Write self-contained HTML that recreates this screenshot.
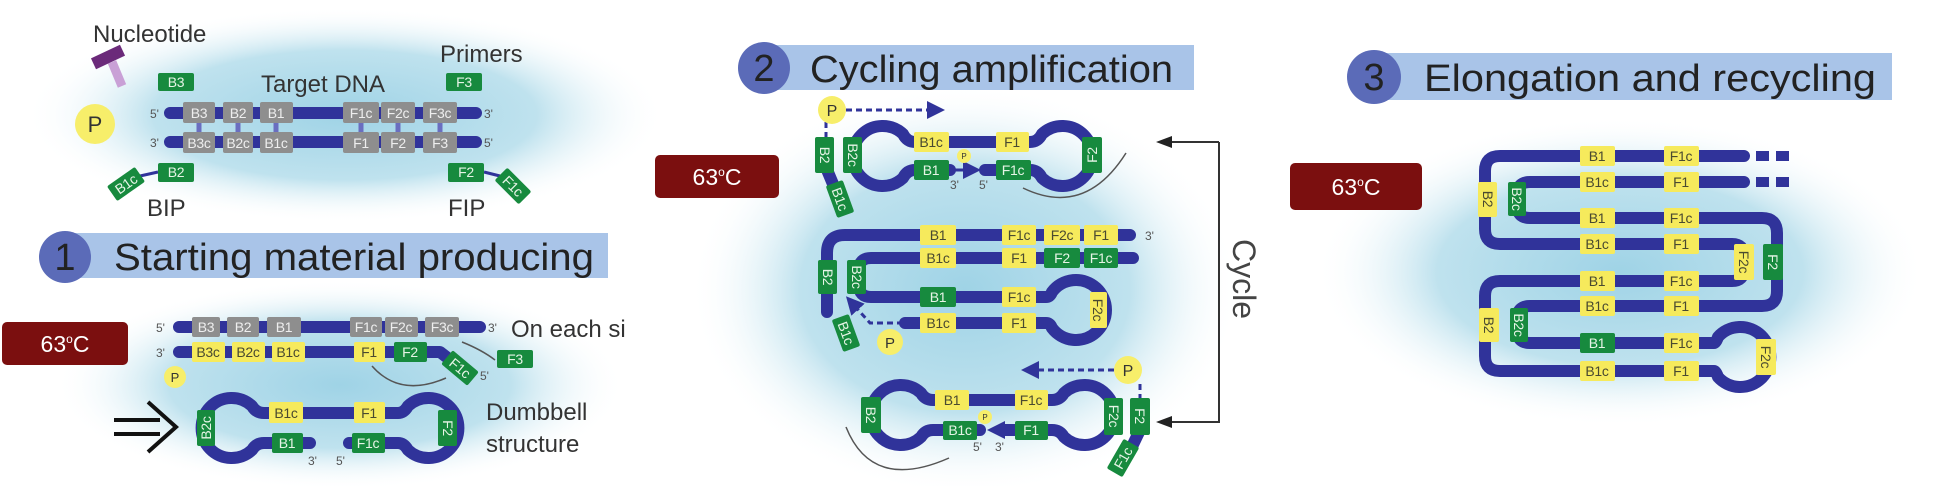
<!DOCTYPE html>
<html><head><meta charset="utf-8"><style>
html,body{margin:0;padding:0;background:#fff;}
svg{display:block;font-family:"Liberation Sans",sans-serif;}
.s{stroke:#30339a;stroke-width:12;fill:none;stroke-linecap:round;stroke-linejoin:round}
.y{fill:#f6ea5c}.g{fill:#178a3e}.gr{fill:#8e8e8e}
.b text{font-size:14px;text-anchor:middle;letter-spacing:-0.3px}
.ty{fill:#4a4a30}.tg{fill:#e6f4e6}.tgr{fill:#eee}
.sm{font-size:12px;fill:#555}
.lab{font-size:24px;fill:#333}
.hd{font-size:38px;fill:#222}
.tmp{font-size:23px;fill:#fff}
.d{stroke:#30339a;stroke-width:3;stroke-dasharray:6 4;fill:none}
</style></head><body>
<svg width="1934" height="486" viewBox="0 0 1934 486" xmlns="http://www.w3.org/2000/svg">
<defs>
<radialGradient id="bg"><stop offset="0" stop-color="#9fd3e6"/><stop offset="0.6" stop-color="#bfe2ee"/><stop offset="1" stop-color="#fff" stop-opacity="0"/></radialGradient>
<marker id="ah" markerWidth="6" markerHeight="6" refX="3" refY="3" orient="auto"><path d="M0,0 L6,3 L0,6z" fill="#30339a"/></marker>
<marker id="ak" markerWidth="8" markerHeight="8" refX="4" refY="4" orient="auto"><path d="M0,1 L8,4 L0,7z" fill="#222"/></marker>
</defs>
<rect width="1934" height="486" fill="#fff"/>
<ellipse cx="345" cy="115" rx="320" ry="108" fill="url(#bg)"/>
<ellipse cx="340" cy="385" rx="285" ry="105" fill="url(#bg)"/>
<ellipse cx="965" cy="290" rx="275" ry="205" fill="url(#bg)"/>
<ellipse cx="1620" cy="272" rx="305" ry="155" fill="url(#bg)"/>

<!-- PANEL 1 top -->
<text x="93" y="42" class="lab">Nucleotide</text>
<text x="440" y="62" class="lab">Primers</text>
<text x="323" y="92" class="lab" text-anchor="middle">Target DNA</text>
<line x1="112" y1="62" x2="122" y2="86" stroke="#c9a0d6" stroke-width="9"/>
<rect x="92" y="51" width="32" height="12" fill="#6b2a7a" transform="rotate(-25 108 57)"/>
<circle cx="95" cy="124" r="20" fill="#f7ee6a"/><text x="95" y="132" font-size="22" text-anchor="middle" fill="#333">P</text>
<g stroke="#6a6ec0" stroke-width="5">
<line x1="199" y1="122" x2="199" y2="133"/><line x1="238" y1="122" x2="238" y2="133"/><line x1="276" y1="122" x2="276" y2="133"/>
<line x1="361" y1="122" x2="361" y2="133"/><line x1="398" y1="122" x2="398" y2="133"/><line x1="440" y1="122" x2="440" y2="133"/></g>
<path class="s" d="M170 113 H476 M170 142 H476"/>
<text x="150" y="118" class="sm">5'</text><text x="484" y="118" class="sm">3'</text>
<text x="150" y="147" class="sm">3'</text><text x="484" y="147" class="sm">5'</text>
<g class="b">
<rect class="gr" x="183" y="102" width="32" height="21" rx="2"/><text class="tgr" x="199" y="118">B3</text>
<rect class="gr" x="223" y="102" width="30" height="21" rx="2"/><text class="tgr" x="238" y="118">B2</text>
<rect class="gr" x="260" y="102" width="33" height="21" rx="2"/><text class="tgr" x="276" y="118">B1</text>
<rect class="gr" x="343" y="102" width="36" height="21" rx="2"/><text class="tgr" x="361" y="118">F1c</text>
<rect class="gr" x="381" y="102" width="34" height="21" rx="2"/><text class="tgr" x="398" y="118">F2c</text>
<rect class="gr" x="423" y="102" width="34" height="21" rx="2"/><text class="tgr" x="440" y="118">F3c</text>
<rect class="gr" x="183" y="132" width="32" height="21" rx="2"/><text class="tgr" x="199" y="148">B3c</text>
<rect class="gr" x="223" y="132" width="30" height="21" rx="2"/><text class="tgr" x="238" y="148">B2c</text>
<rect class="gr" x="260" y="132" width="33" height="21" rx="2"/><text class="tgr" x="276" y="148">B1c</text>
<rect class="gr" x="343" y="132" width="36" height="21" rx="2"/><text class="tgr" x="361" y="148">F1</text>
<rect class="gr" x="381" y="132" width="34" height="21" rx="2"/><text class="tgr" x="398" y="148">F2</text>
<rect class="gr" x="423" y="132" width="34" height="21" rx="2"/><text class="tgr" x="440" y="148">F3</text>
<rect class="g" x="158" y="73" width="36" height="18" rx="2"/><text class="tg" x="176" y="87">B3</text>
<rect class="g" x="446" y="73" width="36" height="18" rx="2"/><text class="tg" x="464" y="87">F3</text>
<line x1="158" y1="172" x2="140" y2="176" stroke="#30339a" stroke-width="3"/>
<line x1="484" y1="172" x2="500" y2="176" stroke="#30339a" stroke-width="3"/>
<rect class="g" x="158" y="163" width="36" height="19" rx="2"/><text class="tg" x="176" y="177">B2</text>
<rect class="g" x="448" y="163" width="36" height="19" rx="2"/><text class="tg" x="466" y="177">F2</text>
<g transform="rotate(-35 126 184)"><rect class="g" x="109" y="175" width="34" height="18" rx="2"/><text class="tg" x="126" y="189">B1c</text></g>
<g transform="rotate(45 513 186)"><rect class="g" x="496" y="177" width="34" height="18" rx="2"/><text class="tg" x="513" y="191">F1c</text></g>
</g>
<text x="147" y="216" class="lab">BIP</text><text x="448" y="216" class="lab">FIP</text>

<!-- header 1 -->
<rect x="67" y="233" width="541" height="45" fill="#a9c4e8"/>
<circle cx="65" cy="257" r="26" fill="#5b6bb8"/><text x="65" y="270" class="hd" text-anchor="middle">1</text>
<text x="114" y="270" class="hd" textLength="480" lengthAdjust="spacingAndGlyphs">Starting material producing</text>

<!-- panel 1 bottom -->
<rect x="2" y="322" width="126" height="43" rx="5" fill="#7b0f0f"/>
<text x="65" y="352" class="tmp" text-anchor="middle">63<tspan font-size="12" dy="-9">o</tspan><tspan dy="9">C</tspan></text>
<path class="s" d="M179 327 H480 M179 352 H440 L458 366"/>
<text x="156" y="332" class="sm">5'</text><text x="488" y="332" class="sm">3'</text><text x="156" y="357" class="sm">3'</text>
<text x="511" y="337" class="lab">On each si</text>
<path d="M462 342 Q482 350 495 360" stroke="#555" stroke-width="1.5" fill="none"/>
<path d="M372 366 Q400 398 446 378" stroke="#555" stroke-width="1.5" fill="none"/>
<g class="b">
<rect class="gr" x="192" y="317" width="28" height="20" rx="2"/><text class="tgr" x="206" y="332">B3</text>
<rect class="gr" x="227" y="317" width="32" height="20" rx="2"/><text class="tgr" x="243" y="332">B2</text>
<rect class="gr" x="267" y="317" width="34" height="20" rx="2"/><text class="tgr" x="284" y="332">B1</text>
<rect class="gr" x="350" y="317" width="32" height="20" rx="2"/><text class="tgr" x="366" y="332">F1c</text>
<rect class="gr" x="385" y="317" width="33" height="20" rx="2"/><text class="tgr" x="401" y="332">F2c</text>
<rect class="gr" x="425" y="317" width="34" height="20" rx="2"/><text class="tgr" x="442" y="332">F3c</text>
<rect class="y" x="192" y="342" width="33" height="20" rx="2"/><text class="ty" x="208" y="357">B3c</text>
<rect class="y" x="232" y="342" width="33" height="20" rx="2"/><text class="ty" x="248" y="357">B2c</text>
<rect class="y" x="272" y="342" width="33" height="20" rx="2"/><text class="ty" x="288" y="357">B1c</text>
<rect class="y" x="354" y="342" width="31" height="20" rx="2"/><text class="ty" x="369" y="357">F1</text>
<rect class="g" x="394" y="342" width="33" height="20" rx="2"/><text class="tg" x="410" y="357">F2</text>
<g transform="rotate(40 460 368)"><rect class="g" x="443" y="359" width="34" height="18" rx="2"/><text class="tg" x="460" y="373">F1c</text></g>
<rect class="g" x="497" y="350" width="36" height="18" rx="2"/><text class="tg" x="515" y="364">F3</text>
</g>
<text x="480" y="380" class="sm">5'</text>
<circle cx="175" cy="377" r="11" fill="#f7ee6a"/><text x="175" y="382" font-size="13" text-anchor="middle" fill="#333">P</text>
<path d="M114 420 H160 M114 434 H160" stroke="#111" stroke-width="4"/>
<polyline points="148,402 176,427 148,452" stroke="#111" stroke-width="4" fill="none"/>
<!-- dumbbell -->
<path class="s" d="M264 413 Q256 413 252 406 A30 30 0 1 0 252 450 Q256 443 264 443 L310 443 M349 443 L398 443 Q404 443 408 450 A30 30 0 1 0 408 406 Q404 413 398 413 L264 413"/>
<g class="b">
<rect class="y" x="269" y="402" width="34" height="21" rx="2"/><text class="ty" x="286" y="418">B1c</text>
<rect class="y" x="354" y="402" width="31" height="21" rx="2"/><text class="ty" x="369" y="418">F1</text>
<rect class="g" x="272" y="433" width="31" height="20" rx="2"/><text class="tg" x="287" y="448">B1</text>
<rect class="g" x="352" y="433" width="33" height="20" rx="2"/><text class="tg" x="368" y="448">F1c</text>
<g transform="rotate(-90 206 428)"><rect class="g" x="188" y="419" width="36" height="18" rx="2"/><text class="tg" x="206" y="433">B2c</text></g>
<g transform="rotate(90 448 428)"><rect class="g" x="430" y="419" width="36" height="19" rx="2"/><text class="tg" x="448" y="433">F2</text></g>
</g>
<text x="308" y="465" class="sm">3'</text><text x="336" y="465" class="sm">5'</text>
<text x="486" y="420" class="lab">Dumbbell</text><text x="486" y="452" class="lab">structure</text>

<!-- PANEL 2 -->
<rect x="766" y="45" width="428" height="45" fill="#a9c4e8"/>
<circle cx="764" cy="68" r="26" fill="#5b6bb8"/><text x="764" y="81" class="hd" text-anchor="middle">2</text>
<text x="810" y="82" class="hd" textLength="363" lengthAdjust="spacingAndGlyphs">Cycling amplification</text>
<rect x="655" y="155" width="124" height="43" rx="5" fill="#7b0f0f"/>
<text x="717" y="185" class="tmp" text-anchor="middle">63<tspan font-size="12" dy="-9">o</tspan><tspan dy="9">C</tspan></text>

<!-- d1 -->
<path class="s" d="M915 142 Q907 142 903 134 A30 30 0 1 0 903 178 Q907 170 915 170 L950 170 M985 170 L1030 170 Q1038 170 1042 178 A30 30 0 1 0 1042 134 Q1038 142 1030 142 L915 142"/>
<path class="s" d="M825 165 L838 196"/>
<path class="d" d="M846 110 H936" marker-end="url(#ah)"/>
<path class="d" d="M826 122 V137"/>
<path d="M952 170 H972" stroke="#30339a" stroke-width="3" marker-end="url(#ah)"/>
<path d="M1023 188 Q1085 218 1126 153" stroke="#555" stroke-width="1.5" fill="none"/>
<g class="b">
<rect class="y" x="914" y="132" width="35" height="20" rx="2"/><text class="ty" x="931" y="147">B1c</text>
<rect class="y" x="996" y="132" width="33" height="20" rx="2"/><text class="ty" x="1012" y="147">F1</text>
<rect class="g" x="914" y="160" width="35" height="20" rx="2"/><text class="tg" x="931" y="175">B1</text>
<rect class="g" x="996" y="160" width="35" height="20" rx="2"/><text class="tg" x="1013" y="175">F1c</text>
<g transform="rotate(90 825 155)"><rect class="g" x="807" y="146" width="36" height="19" rx="2"/><text class="tg" x="825" y="160">B2</text></g>
<g transform="rotate(90 853 155)"><rect class="g" x="835" y="146" width="36" height="19" rx="2"/><text class="tg" x="853" y="160">B2c</text></g>
<g transform="rotate(-90 1092 155)"><rect class="g" x="1074" y="145" width="36" height="20" rx="2"/><text class="tg" x="1092" y="160">F2</text></g>
<g transform="rotate(70 840 199)"><rect class="g" x="823" y="190" width="34" height="18" rx="2"/><text class="tg" x="840" y="204">B1c</text></g>
</g>
<circle cx="832" cy="110" r="14" fill="#f7ee6a"/><text x="832" y="116" font-size="16" text-anchor="middle" fill="#333">P</text>
<circle cx="964" cy="156" r="7" fill="#f7ee6a"/><text x="964" y="159" font-size="8" text-anchor="middle" fill="#333">P</text>
<text x="950" y="189" class="sm">3'</text><text x="979" y="189" class="sm">5'</text>

<!-- middle -->
<path class="s" d="M1130 235 L845 235 Q827 235 827 253 L827 312"/>
<path class="s" d="M1133 258 L871 258 Q859 258 859 270 L859 285 Q859 297 871 297 L1046 297 Q1050 297 1052 292 A30 30 0 1 1 1052 328 Q1050 323 1046 323 L905 323"/>
<path class="d" d="M903 323 L870 323 L852 303" marker-end="url(#ah)"/>
<text x="1145" y="240" class="sm">3'</text>
<g class="b">
<rect class="y" x="920" y="225" width="36" height="20" rx="2"/><text class="ty" x="938" y="240">B1</text>
<rect class="y" x="1002" y="225" width="34" height="20" rx="2"/><text class="ty" x="1019" y="240">F1c</text>
<rect class="y" x="1044" y="225" width="36" height="20" rx="2"/><text class="ty" x="1062" y="240">F2c</text>
<rect class="y" x="1084" y="225" width="34" height="20" rx="2"/><text class="ty" x="1101" y="240">F1</text>
<rect class="y" x="920" y="248" width="36" height="20" rx="2"/><text class="ty" x="938" y="263">B1c</text>
<rect class="y" x="1002" y="248" width="34" height="20" rx="2"/><text class="ty" x="1019" y="263">F1</text>
<rect class="g" x="1044" y="248" width="36" height="20" rx="2"/><text class="tg" x="1062" y="263">F2</text>
<rect class="g" x="1084" y="248" width="34" height="20" rx="2"/><text class="tg" x="1101" y="263">F1c</text>
<rect class="g" x="920" y="287" width="36" height="20" rx="2"/><text class="tg" x="938" y="302">B1</text>
<rect class="y" x="1002" y="287" width="34" height="20" rx="2"/><text class="ty" x="1019" y="302">F1c</text>
<rect class="y" x="920" y="313" width="36" height="20" rx="2"/><text class="ty" x="938" y="328">B1c</text>
<rect class="y" x="1002" y="313" width="34" height="20" rx="2"/><text class="ty" x="1019" y="328">F1</text>
<g transform="rotate(90 1098 310)"><rect class="y" x="1080" y="301" width="36" height="17" rx="2"/><text class="ty" x="1098" y="315">F2c</text></g>
<g transform="rotate(90 828 277)"><rect class="g" x="811" y="268" width="34" height="19" rx="2"/><text class="tg" x="828" y="282">B2</text></g>
<g transform="rotate(90 857 277)"><rect class="g" x="840" y="268" width="34" height="19" rx="2"/><text class="tg" x="857" y="282">B2c</text></g>
<g transform="rotate(70 846 333)"><rect class="g" x="829" y="324" width="34" height="18" rx="2"/><text class="tg" x="846" y="338">B1c</text></g>
</g>
<circle cx="890" cy="342" r="13" fill="#f7ee6a"/><text x="890" y="348" font-size="15" text-anchor="middle" fill="#333">P</text>

<!-- bottom d -->
<path class="s" d="M933 400 Q925 400 921 393 A30 30 0 1 0 921 437 Q925 430 933 430 L980 430 M1004 430 L1052 430 Q1060 430 1064 437 A30 30 0 1 0 1064 393 Q1060 400 1052 400 L933 400"/>
<path class="s" d="M1140 430 L1128 455"/>
<path class="d" d="M1114 370 H1030" marker-end="url(#ah)"/>
<path class="d" d="M1140 384 V398"/>
<path d="M1014 430 H996" stroke="#30339a" stroke-width="3" marker-end="url(#ah)"/>
<path d="M846 427 Q872 492 949 458" stroke="#555" stroke-width="1.5" fill="none"/>
<g class="b">
<rect class="y" x="935" y="390" width="34" height="20" rx="2"/><text class="ty" x="952" y="405">B1</text>
<rect class="y" x="1015" y="390" width="33" height="20" rx="2"/><text class="ty" x="1031" y="405">F1c</text>
<rect class="g" x="943" y="421" width="34" height="19" rx="2"/><text class="tg" x="960" y="435">B1c</text>
<rect class="g" x="1015" y="421" width="33" height="19" rx="2"/><text class="tg" x="1031" y="435">F1</text>
<g transform="rotate(90 871 415)"><rect class="g" x="853" y="405" width="36" height="20" rx="2"/><text class="tg" x="871" y="420">B2</text></g>
<g transform="rotate(90 1114 416)"><rect class="g" x="1096" y="407" width="37" height="19" rx="2"/><text class="tg" x="1114" y="421">F2c</text></g>
<g transform="rotate(90 1140 416)"><rect class="g" x="1122" y="406" width="37" height="20" rx="2"/><text class="tg" x="1140" y="421">F2</text></g>
<g transform="rotate(-60 1123 458)"><rect class="g" x="1106" y="449" width="34" height="18" rx="2"/><text class="tg" x="1123" y="463">F1c</text></g>
</g>
<circle cx="1128" cy="370" r="14" fill="#f7ee6a"/><text x="1128" y="376" font-size="16" text-anchor="middle" fill="#333">P</text>
<circle cx="985" cy="417" r="7" fill="#f7ee6a"/><text x="985" y="420" font-size="8" text-anchor="middle" fill="#333">P</text>
<text x="973" y="451" class="sm">5'</text><text x="995" y="451" class="sm">3'</text>

<path d="M1219 142 H1162 M1219 142 V422 H1162" stroke="#333" stroke-width="2" fill="none"/>
<path d="M1219 142 H1164" stroke="#333" stroke-width="2" marker-end="url(#ak)"/>
<path d="M1219 422 H1164" stroke="#333" stroke-width="2" marker-end="url(#ak)"/>
<text x="1244" y="279" font-size="32" fill="#444" text-anchor="middle" transform="rotate(90 1244 279)" dy="11">Cycle</text>

<!-- PANEL 3 -->
<rect x="1376" y="53" width="516" height="47" fill="#a9c4e8"/>
<circle cx="1374" cy="77" r="27" fill="#5b6bb8"/><text x="1374" y="90" class="hd" text-anchor="middle">3</text>
<text x="1424" y="91" class="hd" textLength="452" lengthAdjust="spacingAndGlyphs">Elongation and recycling</text>
<rect x="1290" y="163" width="132" height="47" rx="5" fill="#7b0f0f"/>
<text x="1356" y="195" class="tmp" text-anchor="middle">63<tspan font-size="12" dy="-9">o</tspan><tspan dy="9">C</tspan></text>
<path class="s" d="M1744 156 L1500 156 Q1485 156 1485 171 L1485 229 Q1485 244 1500 244 L1732 244 Q1744 244 1744 256 L1744 269 Q1744 281 1732 281 L1500 281 Q1485 281 1485 296 L1485 356 Q1485 371 1500 371 L1714 371 Q1716 371 1718 377 A30 30 0 1 0 1718 337 Q1716 343 1714 343 L1530 343 Q1517 343 1517 330 L1517 319 Q1517 306 1530 306 L1762 306 Q1777 306 1777 291 L1777 233 Q1777 218 1762 218 L1530 218 Q1517 218 1517 205 L1517 195 Q1517 182 1530 182 L1744 182"/>
<path d="M1756 156 H1795 M1756 182 H1795" stroke="#30339a" stroke-width="10" stroke-dasharray="13 7"/>
<g class="b">
<rect class="y" x="1580" y="146" width="35" height="20" rx="2"/><text class="ty" x="1597" y="161">B1</text>
<rect class="y" x="1664" y="146" width="35" height="20" rx="2"/><text class="ty" x="1681" y="161">F1c</text>
<rect class="y" x="1580" y="172" width="35" height="20" rx="2"/><text class="ty" x="1597" y="187">B1c</text>
<rect class="y" x="1664" y="172" width="35" height="20" rx="2"/><text class="ty" x="1681" y="187">F1</text>
<rect class="y" x="1580" y="208" width="35" height="20" rx="2"/><text class="ty" x="1597" y="223">B1</text>
<rect class="y" x="1664" y="208" width="35" height="20" rx="2"/><text class="ty" x="1681" y="223">F1c</text>
<rect class="y" x="1580" y="234" width="35" height="20" rx="2"/><text class="ty" x="1597" y="249">B1c</text>
<rect class="y" x="1664" y="234" width="35" height="20" rx="2"/><text class="ty" x="1681" y="249">F1</text>
<rect class="y" x="1580" y="271" width="35" height="20" rx="2"/><text class="ty" x="1597" y="286">B1</text>
<rect class="y" x="1664" y="271" width="35" height="20" rx="2"/><text class="ty" x="1681" y="286">F1c</text>
<rect class="y" x="1580" y="296" width="35" height="20" rx="2"/><text class="ty" x="1597" y="311">B1c</text>
<rect class="y" x="1664" y="296" width="35" height="20" rx="2"/><text class="ty" x="1681" y="311">F1</text>
<rect class="g" x="1580" y="333" width="35" height="20" rx="2"/><text class="tg" x="1597" y="348">B1</text>
<rect class="y" x="1664" y="333" width="35" height="20" rx="2"/><text class="ty" x="1681" y="348">F1c</text>
<rect class="y" x="1580" y="361" width="35" height="20" rx="2"/><text class="ty" x="1597" y="376">B1c</text>
<rect class="y" x="1664" y="361" width="35" height="20" rx="2"/><text class="ty" x="1681" y="376">F1</text>
<g transform="rotate(90 1488 199)"><rect class="y" x="1471" y="190" width="35" height="19" rx="2"/><text class="ty" x="1488" y="204">B2</text></g>
<g transform="rotate(90 1517 199)"><rect class="g" x="1500" y="190" width="34" height="18" rx="2"/><text class="tg" x="1517" y="204">B2c</text></g>
<g transform="rotate(90 1489 325)"><rect class="y" x="1472" y="315" width="34" height="20" rx="2"/><text class="ty" x="1489" y="330">B2</text></g>
<g transform="rotate(90 1519 325)"><rect class="g" x="1502" y="316" width="34" height="18" rx="2"/><text class="tg" x="1519" y="330">B2c</text></g>
<g transform="rotate(90 1773 262)"><rect class="g" x="1755" y="252" width="36" height="20" rx="2"/><text class="tg" x="1773" y="267">F2</text></g>
<g transform="rotate(90 1744 262)"><rect class="y" x="1726" y="252" width="36" height="20" rx="2"/><text class="ty" x="1744" y="267">F2c</text></g>
<g transform="rotate(90 1766 357)"><rect class="y" x="1748" y="347" width="36" height="20" rx="2"/><text class="ty" x="1766" y="362">F2c</text></g>
</g>
</svg>
</body></html>
